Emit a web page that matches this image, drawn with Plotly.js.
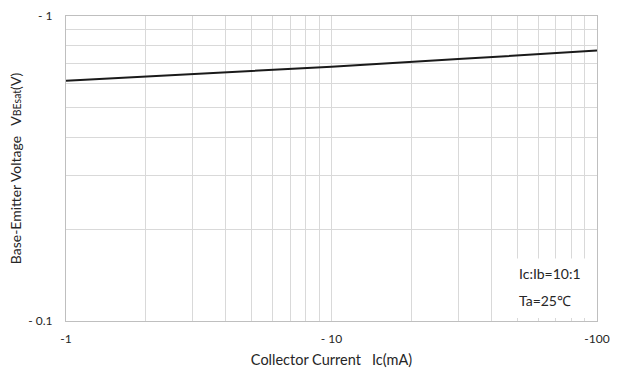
<!DOCTYPE html>
<html>
<head>
<meta charset="utf-8">
<script src="https://cdn.plot.ly/plotly-3.0.1.min.js"></script>
<style>html,body{margin:0;padding:0;background:#fff;}#chart{width:618px;height:369px;}</style>
</head>
<body>
<div id="chart"></div>
<script>
// Collector current magnitude (mA) and base-emitter saturation voltage magnitude (V)
const collectorCurrent = [1, 3, 10, 30, 100];
const vbeSat = [0.6135, 0.6455, 0.682, 0.7225, 0.770];

const xTickVals = [1,2,3,4,5,6,7,8,9,10,20,30,40,50,60,70,80,90,100];
const xTickText = ['-1','','','','','','','','','- 10','','','','','','','','','-100'];
const yTickVals = [0.1,0.2,0.3,0.4,0.5,0.6,0.7,0.8,0.9,1];
const yTickText = ['- 0.1','','','','','','','','','- 1'];

const FONT = 'Lato, "Open Sans", sans-serif';
const GRID = '#d9d9d9';
const TXT = '#262626';

const trace = {
  x: collectorCurrent, y: vbeSat, type: 'scatter', mode: 'lines',
  line: {color: '#1a1a1a', width: 2},
  hoverinfo: 'skip', showlegend: false
};

const layout = {
  width: 618, height: 369,
  margin: {l: 66, r: 21, t: 16, b: 48},
  paper_bgcolor: '#fff', plot_bgcolor: '#fff',
  font: {family: FONT, size: 12, color: TXT},
  xaxis: {
    type: 'log', range: [0, 2],
    tickmode: 'array', tickvals: xTickVals, ticktext: xTickText,
    showgrid: true, gridcolor: GRID, gridwidth: 1,
    showline: true, linecolor: '#bfbfbf', linewidth: 1, mirror: true,
    ticks: 'outside', ticklen: 7, tickcolor: 'rgba(0,0,0,0)',
    zeroline: false,
    tickfont: {family: FONT, size: 12, color: TXT},
    title: {text: 'Collector Current &nbsp; Ic(mA)', font: {family: FONT, size: 14.5, color: TXT}, standoff: 9}
  },
  yaxis: {
    type: 'log', range: [-1, 0],
    tickmode: 'array', tickvals: yTickVals, ticktext: yTickText,
    showgrid: true, gridcolor: GRID, gridwidth: 1,
    showline: true, linecolor: '#bfbfbf', linewidth: 1, mirror: true,
    ticks: 'outside', ticklen: 10, tickcolor: 'rgba(0,0,0,0)',
    zeroline: false,
    tickfont: {family: FONT, size: 12, color: TXT},
    title: {text: "Base-Emitter Voltage &nbsp; V<span style='font-size:10.5px'>BEsat</span>(V)", font: {family: FONT, size: 14, color: TXT}, standoff: 3}
  },
  shapes: [{
    type: 'rect', xref: 'paper', yref: 'paper', layer: 'above',
    x0: 0.818, x1: 0.997, y0: 0.01, y1: 0.205,
    fillcolor: '#fff', line: {width: 0}
  }],
  annotations: [
    {xref: 'paper', yref: 'paper', x: 0.849, y: 0.155, xanchor: 'left', yanchor: 'middle', showarrow: false,
     text: 'Ic:Ib=10:1', font: {family: FONT, size: 14, color: TXT}},
    {xref: 'paper', yref: 'paper', x: 0.849, y: 0.066, xanchor: 'left', yanchor: 'middle', showarrow: false,
     text: 'Ta=25℃', font: {family: FONT, size: 14, color: TXT}}
  ]
};

Plotly.newPlot('chart', [trace], layout, {staticPlot: true, displayModeBar: false});
</script>
</body>
</html>
